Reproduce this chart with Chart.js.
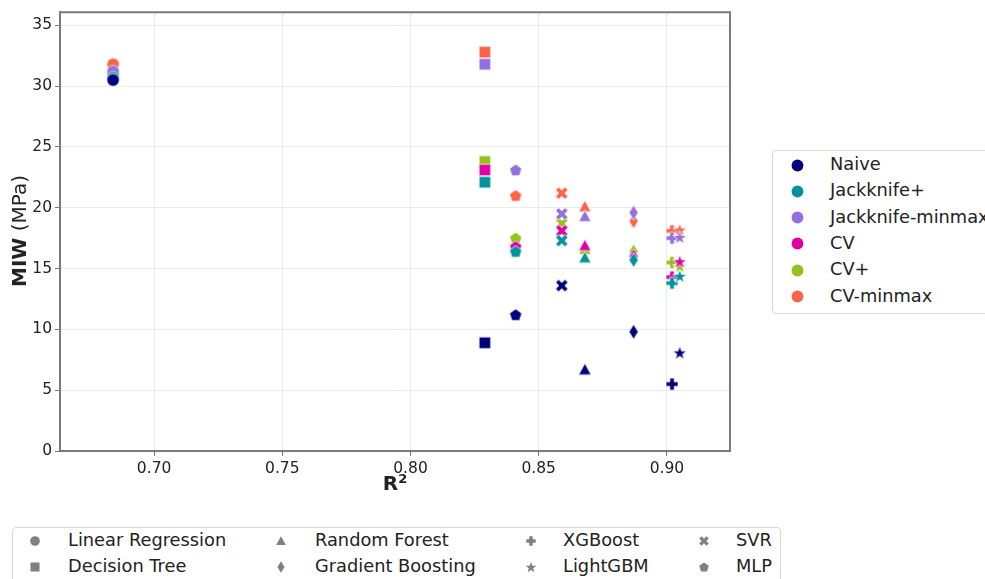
<!DOCTYPE html>
<html>
<head>
<meta charset="utf-8">
<script src="https://cdn.jsdelivr.net/npm/chart.js@4.4.1/dist/chart.umd.min.js"></script>
<style>
  html, body { margin: 0; padding: 0; background: #fff; }
  #wrap { position: relative; width: 985px; height: 579px; overflow: hidden; font-family: "DejaVu Sans", sans-serif; color: #222; }
  #c { position: absolute; left: 0; top: 0; }
  #ytitle { position: absolute; left: 19px; top: 231px; transform: translate(-50%, -50%) rotate(-90deg); font-size: 20px; white-space: nowrap; }
  #xtitle { position: absolute; left: 395px; top: 483px; transform: translate(-50%, -50%); font-size: 20px; font-weight: bold; }
  #xtitle sup { font-size: 13px; }
  .box { position: absolute; border: 1px solid #d8d8d8; border-radius: 4px; background: #fff; }
  #legMethods { left: 772px; top: 150px; width: 240px; height: 162px; }
  #legModels { left: 12px; top: 527px; width: 767px; height: 70px; }
  .item { position: absolute; font-size: 17.8px; line-height: 20px; white-space: nowrap; }
  .item canvas { position: absolute; }
</style>
</head>
<body>
<div id="wrap">
  <canvas id="c" width="985" height="579"></canvas>
  <div id="ytitle"><b>MIW</b> (MPa)</div>
  <div id="xtitle">R<sup>2</sup></div>
  <div id="legMethods" class="box"></div>
  <div id="legModels" class="box"></div>
</div>
<script>
// models (one marker shape each) and their R^2
const models = ['Linear Regression', 'Decision Tree', 'Random Forest', 'Gradient Boosting', 'XGBoost', 'LightGBM', 'SVR', 'MLP'];
const shapes = ['circle', 'square', 'triangle', 'diamond', 'plus', 'star', 'x', 'pentagon'];
const r2 = [0.684, 0.829, 0.868, 0.887, 0.902, 0.905, 0.859, 0.841];

// MIW (MPa) per method, same order as models
const methods = ['Naive', 'Jackknife+', 'Jackknife-minmax', 'CV', 'CV+', 'CV-minmax'];
const colors = ['#00007f', '#00939c', '#9370db', '#e000a8', '#94c11a', '#ff6347'];
const naive = [30.5, 8.9, 6.7, 9.8, 5.5, 8.1, 13.6, 11.2];
const jackknifePlus = [30.7, 22.1, 15.9, 15.7, 13.8, 14.4, 17.3, 16.4];
const jackknifeMinmax = [31.2, 31.8, 19.3, 19.6, 17.5, 17.6, 19.5, 23.1];
const cv = [31.0, 23.1, 16.9, 16.0, 14.3, 15.6, 18.1, 16.8];
const cvPlus = [30.9, 23.8, 16.6, 16.4, 15.5, 15.2, 18.7, 17.5];
const cvMinmax = [31.8, 32.8, 20.1, 18.9, 18.1, 18.2, 21.2, 21.0];
const series = [naive, jackknifePlus, jackknifeMinmax, cv, cvPlus, cvMinmax];

const xTicks = [0.70, 0.75, 0.80, 0.85, 0.90];
const yTicks = [0, 5, 10, 15, 20, 25, 30, 35];

// ----------------------
// Marker glyphs (matplotlib-like filled shapes)
// ----------------------
function tracePath(ctx, shape, c, k) {
    ctx.beginPath();
    if (shape === 'circle') {
        ctx.arc(c, c, 6.2 * k, 0, Math.PI * 2);
    } else if (shape === 'square') {
        ctx.rect(c - 5.8 * k, c - 5.8 * k, 11.6 * k, 11.6 * k);
    } else if (shape === 'triangle') {
        ctx.moveTo(c, c - 6.2 * k);
        ctx.lineTo(c + 6.2 * k, c + 5.2 * k);
        ctx.lineTo(c - 6.2 * k, c + 5.2 * k);
        ctx.closePath();
    } else if (shape === 'diamond') {
        ctx.moveTo(c, c - 7.5 * k);
        ctx.lineTo(c + 4.6 * k, c);
        ctx.lineTo(c, c + 7.5 * k);
        ctx.lineTo(c - 4.6 * k, c);
        ctx.closePath();
    } else if (shape === 'plus') {
        const a = 6 * k, b = 2.2 * k;
        ctx.moveTo(c - b, c - a); ctx.lineTo(c + b, c - a); ctx.lineTo(c + b, c - b);
        ctx.lineTo(c + a, c - b); ctx.lineTo(c + a, c + b); ctx.lineTo(c + b, c + b);
        ctx.lineTo(c + b, c + a); ctx.lineTo(c - b, c + a); ctx.lineTo(c - b, c + b);
        ctx.lineTo(c - a, c + b); ctx.lineTo(c - a, c - b); ctx.lineTo(c - b, c - b);
        ctx.closePath();
    } else if (shape === 'x') {
        ctx.save();
        ctx.translate(c, c);
        ctx.rotate(Math.PI / 4);
        const a = 6.6 * k, b = 2.1 * k;
        ctx.moveTo(-b, -a); ctx.lineTo(b, -a); ctx.lineTo(b, -b);
        ctx.lineTo(a, -b); ctx.lineTo(a, b); ctx.lineTo(b, b);
        ctx.lineTo(b, a); ctx.lineTo(-b, a); ctx.lineTo(-b, b);
        ctx.lineTo(-a, b); ctx.lineTo(-a, -b); ctx.lineTo(-b, -b);
        ctx.closePath();
        ctx.restore();
    } else if (shape === 'star') {
        const ro = 7.4 * k, ri = 2.9 * k;
        for (let i = 0; i < 10; i++) {
            const r = i % 2 === 0 ? ro : ri;
            const ang = -Math.PI / 2 + i * Math.PI / 5;
            const px = c + r * Math.cos(ang), py = c + r * Math.sin(ang) + 0.8 * k;
            if (i === 0) ctx.moveTo(px, py); else ctx.lineTo(px, py);
        }
        ctx.closePath();
    } else if (shape === 'pentagon') {
        const r = 6.4 * k;
        for (let i = 0; i < 5; i++) {
            const ang = -Math.PI / 2 + i * 2 * Math.PI / 5;
            const px = c + r * Math.cos(ang), py = c + r * Math.sin(ang) + 0.5 * k;
            if (i === 0) ctx.moveTo(px, py); else ctx.lineTo(px, py);
        }
        ctx.closePath();
    }
}

function makeMarker(shape, color, k, edge) {
    const size = Math.ceil(20 * k);
    const cnv = document.createElement('canvas');
    cnv.width = size;
    cnv.height = size;
    const ctx = cnv.getContext('2d');
    tracePath(ctx, shape, size / 2, k);
    ctx.fillStyle = color;
    ctx.fill();
    if (edge) {
        ctx.strokeStyle = 'rgba(255,255,255,0.9)';
        ctx.lineWidth = 0.8;
        ctx.stroke();
    }
    return cnv;
}

// ----------------------
// Chart
// ----------------------
const datasets = methods.map((name, mi) => ({
    label: name,
    data: series[mi].map((v, i) => ({ x: r2[i], y: v })),
    pointStyle: shapes.map(s => makeMarker(s, colors[mi], 1, true)),
    backgroundColor: colors[mi],
    borderColor: colors[mi]
}));

function keepTicks(list) {
    return scale => {
        scale.ticks = list.map(v => ({ value: v }));
    };
}

new Chart(document.getElementById('c').getContext('2d'), {
    type: 'scatter',
    data: { datasets: datasets },
    options: {
        responsive: false,
        animation: false,
        layout: { padding: { left: 0, top: 12, right: 255, bottom: 88 } },
        plugins: {
            legend: { display: false },
            tooltip: { enabled: false }
        },
        scales: {
            x: {
                type: 'linear',
                min: 0.6633,
                max: 0.9246,
                afterBuildTicks: keepTicks(xTicks),
                afterFit: s => { s.height = 40; },
                border: { color: '#7a7a7a', width: 2 },
                grid: { color: '#ebebeb', lineWidth: 1, tickLength: 5, tickColor: '#7a7a7a' },
                ticks: {
                    color: '#222',
                    font: { family: 'DejaVu Sans', size: 15.5 },
                    padding: 4,
                    maxRotation: 0,
                    callback: v => v.toFixed(2)
                }
            },
            y: {
                type: 'linear',
                min: 0,
                max: 36.07,
                afterBuildTicks: keepTicks(yTicks),
                afterFit: s => { s.width = 60; },
                border: { color: '#7a7a7a', width: 2 },
                grid: { color: '#ebebeb', lineWidth: 1, tickLength: 5, tickColor: '#7a7a7a' },
                ticks: {
                    color: '#222',
                    font: { family: 'DejaVu Sans', size: 15.5 },
                    padding: 3,
                    callback: v => String(v)
                }
            }
        }
    },
    plugins: [{
        // closing frame on the top and right sides
        id: 'frame',
        afterDraw(chart) {
            const { ctx, chartArea: a } = chart;
            ctx.save();
            ctx.strokeStyle = '#7a7a7a';
            ctx.lineWidth = 2;
            ctx.beginPath();
            ctx.moveTo(a.left - 1, a.top);
            ctx.lineTo(a.right, a.top);
            ctx.lineTo(a.right, a.bottom + 1);
            ctx.stroke();
            ctx.restore();
        }
    }]
});

// ----------------------
// Legends
// ----------------------
function addItem(box, text, marker, mx, tx, y) {
    const el = document.createElement('div');
    el.className = 'item';
    el.style.left = '0px';
    el.style.top = '0px';
    marker.style.left = (mx - marker.width / 2) + 'px';
    marker.style.top = (y - marker.height / 2) + 'px';
    el.appendChild(marker);
    const span = document.createElement('span');
    span.textContent = text;
    span.style.position = 'absolute';
    span.style.left = tx + 'px';
    span.style.top = (y - 11) + 'px';
    el.appendChild(span);
    box.appendChild(el);
}

const legMethods = document.getElementById('legMethods');
methods.forEach((name, i) => {
    addItem(legMethods, name, makeMarker('circle', colors[i], 0.95, false), 24, 57, 14 + i * 26.3);
});

const legModels = document.getElementById('legModels');
const colMarker = [22, 268, 518, 691];
const colText = [55, 302, 550, 723];
models.forEach((name, i) => {
    const col = Math.floor(i / 2), row = i % 2;
    addItem(legModels, name, makeMarker(shapes[i], '#808080', 0.78, false), colMarker[col], colText[col], 13 + row * 26);
});
</script>
</body>
</html>
